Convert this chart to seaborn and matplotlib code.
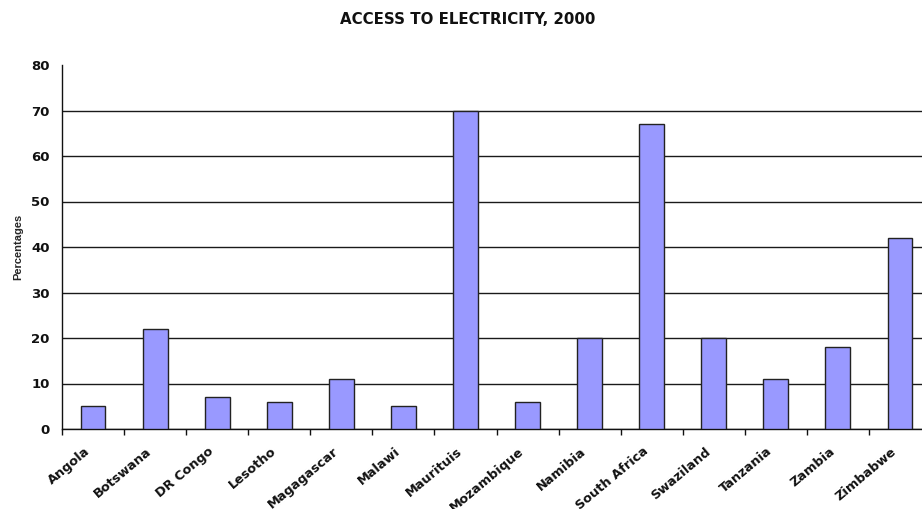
import matplotlib
matplotlib.use("Agg")
import matplotlib.pyplot as plt
import matplotlib.transforms as mtransforms
import seaborn as sns
import pandas as pd
import numpy as np

countries = ["Angola", "Botswana", "DR Congo", "Lesotho", "Magagascar", "Malawi",
             "Maurituis", "Mozambique", "Namibia", "South Africa", "Swaziland",
             "Tanzania", "Zambia", "Zimbabwe"]
access_pct = [5, 22, 7, 6, 11, 5, 70, 6, 20, 67, 20, 11, 18, 42]
y_ticks = [0, 10, 20, 30, 40, 50, 60, 70, 80]

title = "ACCESS TO ELECTRICITY, 2000"
y_label = "Percentages"

sns.set_theme(style="white")
plt.rcParams["font.family"] = ["DejaVu Sans"]

df = pd.DataFrame({"country": countries, "pct": access_pct})

fig = plt.figure(figsize=(9.22, 5.09), dpi=100)
ax = fig.add_axes([62 / 922, 80 / 509, 869 / 922, 364 / 509])

sns.barplot(data=df, x="country", y="pct", ax=ax, color="#9999FF",
            saturation=1, width=0.4, edgecolor="#222222", linewidth=1.0, zorder=3)

ax.set_xlim(-0.5, len(countries) - 0.5)
ax.set_ylim(0, 80)
ax.set_yticks(y_ticks)
ax.yaxis.grid(True, color="#1a1a1a", linewidth=1.0, zorder=1)
ax.set_axisbelow(True)
ax.yaxis.get_gridlines()[-1].set_visible(False)

for side in ["top", "right"]:
    ax.spines[side].set_visible(False)
for side in ["left", "bottom"]:
    ax.spines[side].set_color("#111111")
    ax.spines[side].set_linewidth(1.0)

ax.set_xlabel("")
ax.set_ylabel(y_label, fontsize=8, fontweight="bold", labelpad=5.5,
              family=["Liberation Sans", "DejaVu Sans"])

ax.tick_params(axis="y", which="major", direction="out", length=4, width=1,
               color="#111111", labelsize=9.5, pad=5)
for lbl in ax.get_yticklabels():
    lbl.set_fontweight("bold")
    lbl.set_color("#111111")

# category labels centred on bars, tick marks on boundaries
ax.set_xticks(np.arange(len(countries)))
ax.set_xticklabels(countries, rotation=40, ha="right", va="center",
                   rotation_mode="anchor", fontsize=9.3, fontweight="bold",
                   color="#111111")
ax.tick_params(axis="x", which="major", length=0, pad=15)
ax.set_xticks(np.arange(len(countries)) - 0.5, minor=True)
ax.tick_params(axis="x", which="minor", direction="out", length=4, width=1,
               color="#111111", bottom=True)
shift = mtransforms.ScaledTranslation(-5 / 100, 0, fig.dpi_scale_trans)
for lbl in ax.get_xticklabels():
    lbl.set_transform(lbl.get_transform() + shift)

fig.text(467.5 / 922, 1 - 20 / 509, title, ha="center", va="center",
         fontsize=10.8, fontweight="bold", color="#111111")

fig.savefig("out.png", dpi=100)
